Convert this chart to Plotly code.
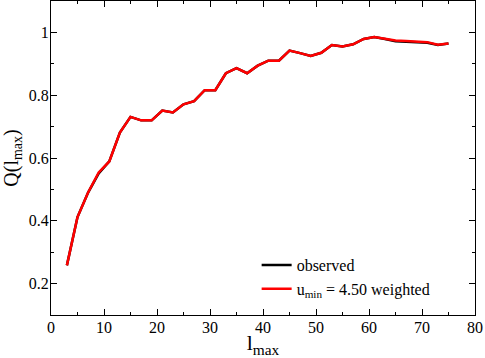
import plotly.graph_objects as go

l_max = [3, 5, 7, 9, 11, 13, 15, 17, 19, 21, 23, 25, 27, 29, 31, 33, 35, 37, 39,
         41, 43, 45, 47, 49, 51, 53, 55, 57, 59, 61, 63, 65, 67, 69, 71, 73, 75]
q_weighted = [0.258, 0.412, 0.490, 0.554, 0.589, 0.681, 0.731, 0.720, 0.720, 0.751,
              0.745, 0.771, 0.781, 0.816, 0.816, 0.870, 0.886, 0.870, 0.894,
              0.910, 0.910, 0.942, 0.934, 0.925, 0.935, 0.960, 0.955, 0.962, 0.979,
              0.985, 0.980, 0.974, 0.973, 0.972, 0.969, 0.961, 0.965]
q_observed = [0.258, 0.412, 0.490, 0.551, 0.589, 0.681, 0.731, 0.720, 0.720, 0.751,
              0.745, 0.771, 0.781, 0.816, 0.816, 0.870, 0.886, 0.870, 0.894,
              0.910, 0.910, 0.942, 0.934, 0.925, 0.935, 0.960, 0.955, 0.962, 0.979,
              0.985, 0.979, 0.972, 0.970, 0.969, 0.967, 0.960, 0.965]

font = "Liberation Serif"
fig = go.Figure()
fig.add_trace(go.Scatter(x=l_max, y=q_observed, mode="lines", name="observed",
                         line=dict(color="black", width=2.5)))
fig.add_trace(go.Scatter(x=l_max, y=q_weighted, mode="lines",
                         name="u<sub>min</sub> = 4.50 weighted",
                         line=dict(color="#ff0000", width=2.5)))

axis_common = dict(showline=True, linecolor="black", linewidth=1, mirror="allticks",
                   ticks="inside", ticklen=6, tickcolor="black", showgrid=False,
                   zeroline=False, automargin=False,
                   tickfont=dict(family=font, size=16, color="black"))
fig.update_xaxes(range=[0, 80], dtick=10, tick0=0, ticklabelstandoff=-2,
                 minor=dict(ticks="inside", dtick=5, ticklen=3, tickcolor="black"),
                 title=dict(text="l<sub>max</sub>", font=dict(family=font, size=22, color="black"),
                            standoff=0),
                 **axis_common)
fig.update_yaxes(range=[0.1, 1.1], dtick=0.2, tick0=0, ticklabelstandoff=-2,
                 minor=dict(ticks="inside", dtick=0.1, ticklen=3, tickcolor="black"),
                 title=dict(text="Q(l<sub>max</sub>)", font=dict(family=font, size=20, color="black"),
                            standoff=4),
                 **axis_common)
fig.update_layout(width=485, height=358, margin=dict(l=51, r=10, t=1, b=43),
                  plot_bgcolor="white", paper_bgcolor="white",
                  font=dict(family=font, color="black"),
                  legend=dict(x=0.485, y=0.213, xanchor="left", yanchor="top",
                              bgcolor="rgba(0,0,0,0)", tracegroupgap=0,
                              font=dict(family=font, size=16, color="black")))
fig.write_html("out.html", config={"displayModeBar": False},
               post_script="document.body.style.margin='0';document.body.style.overflow='hidden';")
